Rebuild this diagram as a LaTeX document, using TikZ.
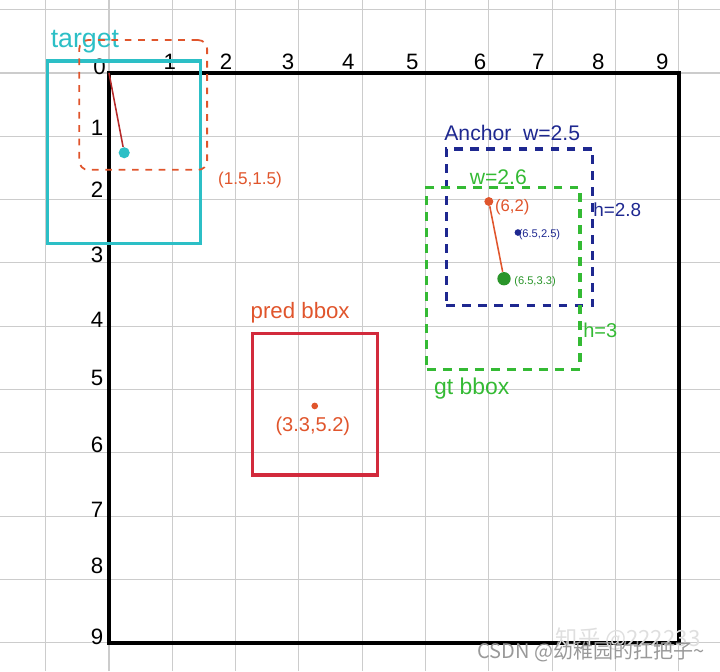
\documentclass[tikz,border=0pt]{standalone}
\usepackage{fontspec}
\setmainfont{Liberation Sans}
\newfontfamily\cjkfont{Noto Sans CJK SC}
\definecolor{targetcyan}{HTML}{2CBFC6}
\definecolor{linered}{HTML}{B52A2A}
\definecolor{handorange}{HTML}{E0552C}
\definecolor{anchornavy}{HTML}{1E2890}
\definecolor{gtgreen}{HTML}{34BA34}
\definecolor{predred}{HTML}{D22A3C}
\begin{document}
\begin{tikzpicture}[
	tick/.style={font=\fontsize{10}{11}\selectfont},
	dot/.style={circle, fill, inner sep=0pt, minimum size=#1},
	bbox/.style={draw, rectangle, inner sep=0pt, line width=1.4pt},
	dashbox/.style={bbox, dash pattern=on 4pt off 3.2pt},
	hand/.style={font=\fontsize{9.5}{10}\selectfont},
	small/.style={font=\fontsize{5}{6}\selectfont}
]
	\useasboundingbox (-1.722,1.153) rectangle (9.652,-9.447);
	\draw[gray!40, line width=0.5pt] (-1.722,1.153) grid (9.652,-9.447);
	\draw[line width=1.8pt] (0,0) rectangle (9,-9);
	\coordinate (origin) at (0,0);

	% axis numbers
	\node[tick] (t0) at (-0.15,0.1) {0};
	\foreach \k/\x in {1/0.96, 2/1.85, 3/2.83, 4/3.78, 5/4.79, 6/5.86, 7/6.78, 8/7.73, 9/8.74}
		\node[tick] (tx\k) at (\x,0.18) {\k};
	\foreach \k/\y in {1/0.87, 2/1.85, 3/2.87, 4/3.9, 5/4.82, 6/5.88, 7/6.9, 8/7.79, 9/8.9}
		\node[tick] (ty\k) at (-0.19,-\y) {\k};

	% target
	\node[bbox, draw=targetcyan, minimum width=2.41cm, minimum height=2.88cm] (target) at (0.235,-1.25) {};
	\node[targetcyan, font=\fontsize{12}{13}\selectfont] (targetlabel) at (-0.38,0.49) {target};
	\node[dashbox, draw=handorange, line width=0.8pt, dash pattern=on 3pt off 3pt, rounded corners=4pt, minimum width=2.02cm, minimum height=2.05cm] (region) at (0.54,-0.505) {};
	\node[dot=5pt, targetcyan] (tdot) at (0.24,-1.26) {};
	\draw[linered, line width=0.7pt] (origin) -- (tdot);
	\node[handorange, font=\fontsize{7.7}{8}\selectfont, anchor=west] (regionlabel) at (1.6,-1.69) {(1.5,1.5)};

	% anchor and gt
	\node[dashbox, draw=anchornavy, minimum width=2.31cm, minimum height=2.48cm] (anchor) at (6.485,-2.44) {};
	\node[hand, anchornavy] (anchorlabel) at (6.37,-0.95) {Anchor\ \ w=2.5};
	\node[hand, anchornavy, font=\fontsize{8.5}{9}\selectfont] (anchorh) at (8.03,-2.16) {h=2.8};
	\node[dashbox, draw=gtgreen, minimum width=2.42cm, minimum height=2.87cm] (gt) at (6.23,-3.245) {};
	\node[hand, gtgreen] (gtw) at (6.15,-1.64) {w=2.6};
	\node[hand, gtgreen, font=\fontsize{9}{10}\selectfont] (gth) at (7.76,-4.06) {h=3};
	\node[gtgreen, font=\fontsize{10.3}{11}\selectfont] (gtlabel) at (5.73,-4.98) {gt bbox};
	\node[dot=4pt, handorange] (pdot) at (6,-2.03) {};
	\node[handorange, font=\fontsize{7.5}{8}\selectfont] (plabel) at (6.37,-2.12) {(6,2)};
	\node[dot=3pt, anchornavy] (adot) at (6.46,-2.52) {};
	\node[small, anchornavy] (alabel) at (6.8,-2.55) {(6.5,2.5)};
	\node[dot=6pt, gtgreen!80!black] (gdot) at (6.24,-3.25) {};
	\node[small, gtgreen!80!black] (glabel) at (6.73,-3.29) {(6.5,3.3)};
	\draw[handorange, line width=0.7pt] (pdot) -- (gdot);

	% pred
	\node[bbox, draw=predred, minimum width=1.98cm, minimum height=2.24cm] (pred) at (3.25,-5.23) {};
	\node[handorange, font=\fontsize{10}{11}\selectfont] (predlabel) at (3.02,-3.78) {pred bbox};
	\node[dot=3pt, handorange] (preddot) at (3.25,-5.26) {};
	\node[handorange, font=\fontsize{9}{10}\selectfont] (predxy) at (3.22,-5.58) {(3.3,5.2)};

	% watermark
	\node[gray!25, font=\fontsize{10}{11}\cjkfont] (zhihu) at (8.2,-8.94) {知乎 @222233};
	\node[gray!80, font=\fontsize{9}{10}\cjkfont] (csdn) at (7.61,-9.15) {CSDN @幼稚园的扛把子\textasciitilde};
\end{tikzpicture}
\end{document}
